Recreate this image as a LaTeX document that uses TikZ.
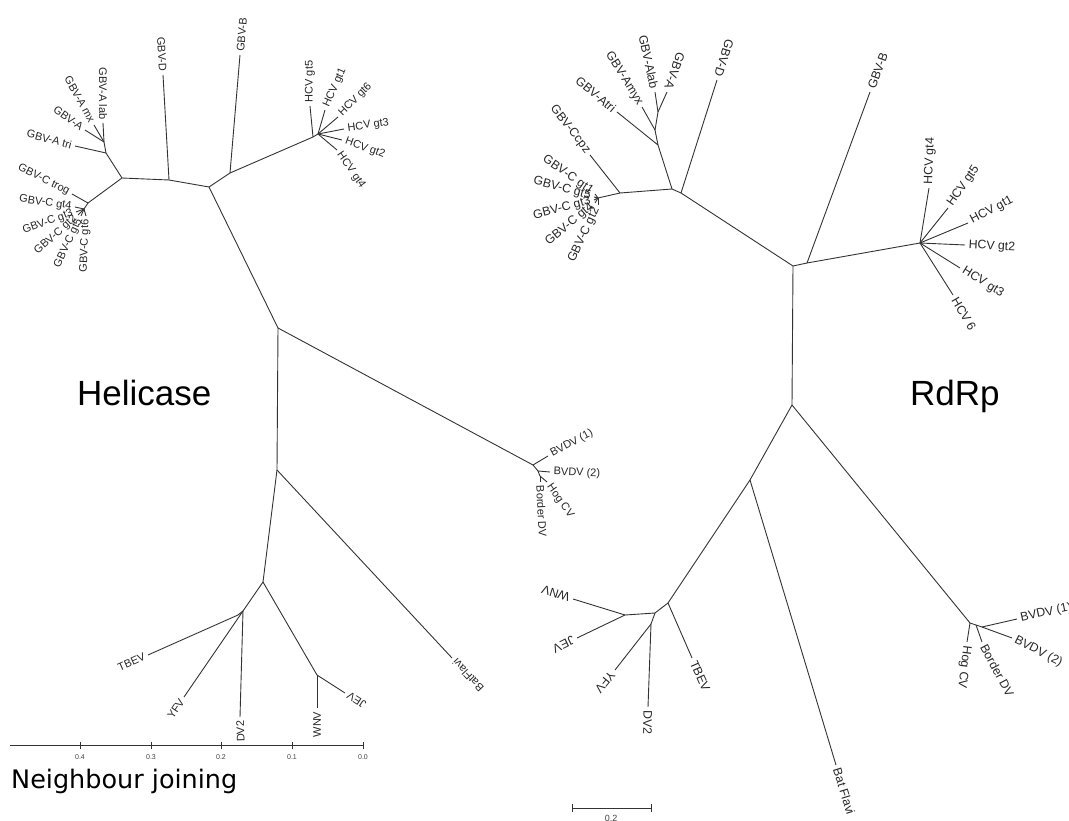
\documentclass[tikz,border=0pt]{standalone}
\usepackage{fontspec}
\setmainfont{Liberation Sans}
\newfontfamily\njfont{DejaVu Sans}
\usetikzlibrary{calc}
\tikzset{
  br/.style={line width=0.9pt, black!80},
  lab/.style={font=\fontsize{11}{13}\selectfont, inner sep=3.5pt, text=black!85},
  labr/.style={lab, font=\fontsize{12.3}{14}\selectfont},
  big/.style={font=\fontsize{35}{40}\selectfont, inner sep=0pt, text=black},
  mid/.style={font=\njfont\fontsize{25.5}{30}\selectfont, inner sep=0pt, text=black},
  ticklab/.style={font=\fontsize{7}{8}\selectfont, inner sep=0pt, text=black!75},
}
\newcommand{\leafx}[6]{%
  \coordinate (#2) at (#3);
  \draw[br] (#1) -- (#2);
  \node[lab, rotate=#4, anchor=#5] (#2-l) at (#2) {#6};}
\newcommand{\leafr}[6]{%
  \coordinate (#2) at (#3);
  \draw[br] (#1) -- (#2);
  \node[labr, rotate=#4, anchor=#5] (#2-l) at (#2) {#6};}
\newcommand{\inode}[3]{\coordinate (#2) at (#3); \draw[br] (#1) -- (#2);}
\begin{document}
\begin{tikzpicture}[x=1pt,y=-1pt]
\useasboundingbox (0,0) rectangle (1069,821);
% ================= Helicase tree =================
\coordinate (L1) at (122,178);
\inode{L1}{Ld}{169,180}
\inode{Ld}{Lm}{209,187}
\inode{Lm}{Lb}{230,173}
\inode{Lb}{Lh}{313,137}
\inode{Lh}{Lh1}{318,134}
\inode{Lm}{L2}{278,328}
\inode{L2}{L3}{277,470}
\inode{L2}{Lbv}{533,465}
\inode{Lbv}{Lbv1}{538,471}
\inode{Lbv1}{Lbv2}{540,476}
\inode{L3}{L4}{263,582}
\inode{L4}{L5}{243,611}
\inode{L5}{L7}{238,615}
\inode{L4}{L6}{317,675}
\inode{L1}{La0}{106,153}
\inode{La0}{La1}{104,142}
\inode{L1}{Lc0}{88,203}
\inode{Lc0}{Lc1}{84,209}
% GBV-A
\leafx{La0}{Ltri}{75,146}{-15}{east}{GBV-A tri}
\leafx{La1}{LA}{85,130}{-36}{east}{GBV-A}
\leafx{La1}{Lmx}{94,125}{-61}{east}{GBV-A mx}
\leafx{La1}{Llab}{103,123}{-90}{east}{GBV-A lab}
% GBV-C
\leafx{Lc0}{Ltrog}{72,194}{-27}{east}{GBV-C trog}
\leafx{Lc1}{Lgt4}{75,207}{-8}{east}{GBV-C gt4}
\leafx{Lc1}{Lgt3}{76,212}{20}{east}{GBV-C gt3}
\leafx{Lc1}{Lgt2}{78,215}{42}{east}{GBV-C gt2}
\leafx{Lc1}{Lgt5}{81,216}{65}{east}{GBV-C gt5}
\leafx{Lc1}{Lgt6}{86,216}{88}{east}{GBV-C gt6}
% GBV-D, GBV-B
\leafx{Ld}{LD}{163,75}{-87}{east}{GBV-D}
\leafx{Lb}{LB}{240,55}{85}{west}{GBV-B}
% HCV
\leafx{Lh}{Lh5}{310,106}{90}{west}{HCV gt5}
\leafx{Lh1}{Lh1t}{325,110}{66}{west}{HCV gt1}
\leafx{Lh1}{Lh6}{338,117}{45}{west}{HCV gt6}
\leafx{Lh1}{Lh3}{344,129}{8}{west}{HCV gt3}
\leafx{Lh1}{Lh2}{342,140}{-20}{west}{HCV gt2}
\leafx{Lh1}{Lh4}{337,150}{-55}{west}{HCV gt4}
% BVDV
\leafx{Lbv}{Lbvd1}{548,456}{28}{west}{BVDV (1)}
\leafx{Lbv1}{Lbvd2}{550,472}{-2}{west}{BVDV (2)}
\leafx{Lbv2}{Lhog}{547,482}{-55}{west}{Hog CV}
\leafx{Lbv2}{Lbdv}{540,482}{-87}{west}{Border DV}
% Flavi
\leafx{L3}{Lbat}{452,658}{133}{east}{BatFlavi}
\leafx{L7}{Ltbev}{148,655}{24}{east}{TBEV}
\leafx{L5}{Lyfv}{184,697}{56}{east}{YFV}
\leafx{L5}{Ldv2}{240,717}{92}{east}{DV2}
\leafx{L6}{Lwnv}{317,708}{90}{east}{WNV}
\leafx{L6}{Ljev}{345,693}{147}{east}{JEV}
% axis
\coordinate (ax0) at (10,745);
\coordinate (ax1) at (363,745);
\draw[br] (ax0) -- (ax1);
\foreach \xx/\lb [count=\i] in {80/0.4,151/0.3,221/0.2,292/0.1,363/0.0}{
  \coordinate (tk\i) at (\xx,745);
  \draw[br] (tk\i) ++(0,-3.5) -- ++(0,7);
  \node[ticklab] (tl\i) at (\xx,757) {\lb};
}
\node[big, anchor=base west] (hel) at (77,405) {Helicase};
\node[mid, anchor=base west] (nj) at (11,788) {Neighbour joining};
% ================= RdRp tree =================
\coordinate (R2) at (793,266);
\inode{R2}{R1a}{681,193}
\inode{R1a}{R1}{672,189}
\inode{R2}{R2b}{807,263}
\inode{R2b}{Rh}{920,243}
\inode{R2}{R3}{792,405}
\inode{R3}{R4}{750,480}
\inode{R4}{Rf0}{668,603}
\inode{Rf0}{Rf1}{655,613}
\inode{Rf1}{Rf2}{651,624}
\inode{Rf1}{Rf3}{625,615}
\inode{R3}{Rg0}{970,623}
\inode{Rg0}{Rg1}{976,625}
\inode{Rg1}{Rg2}{982,627}
\inode{R1}{Ra0}{658,145}
\inode{Ra0}{Ra1}{655,130}
\inode{Ra1}{Ra2}{658,112}
\inode{R1}{Rc0}{620,193}
\inode{Rc0}{Rc1}{598,198}
% GBV
\leafr{R1a}{RD}{717,80}{-108}{east}{GBV-D}
\leafr{R2b}{RB}{870,92}{70}{west}{GBV-B}
\leafr{Ra0}{Ratri}{617,112}{-40}{east}{GBV-Atri}
\leafr{Ra1}{Ramyx}{642,107}{-58}{east}{GBV-Amyx}
\leafr{Ra2}{Ralab}{655,92}{-78}{east}{GBV-Alab}
\leafr{Ra2}{RA}{667,92}{-110}{east}{GBV-A}
\leafr{Rc0}{Rcpz}{590,155}{-52}{east}{GBV-Ccpz}
\leafr{Rc1}{Rg1t}{595,194}{-35}{east}{GBV-C gt1}
\leafr{Rc1}{Rg5}{594,197}{-15}{east}{GBV-C gt5}
\leafr{Rc1}{Rg3}{594,200}{15}{east}{GBV-C gt3}
\leafr{Rc1}{Rg4}{595,203}{40}{east}{GBV-C gt4}
\leafr{Rc1}{Rgt2}{598,205}{65}{east}{GBV-C gt2}
% HCV
\leafr{Rh}{Rh4}{929,188}{88}{west}{HCV gt4}
\leafr{Rh}{Rh5}{948,208}{55}{west}{HCV gt5}
\leafr{Rh}{Rh1}{968,223}{28}{west}{HCV gt1}
\leafr{Rh}{Rh2}{965,245}{-3}{west}{HCV gt2}
\leafr{Rh}{Rh3}{960,268}{-32}{west}{HCV gt3}
\leafr{Rh}{Rh6}{953,295}{-60}{west}{HCV 6}
% Flavi
\leafr{Rf0}{Rtbev}{692,658}{-66}{west}{TBEV}
\leafr{Rf2}{Rdv2}{648,707}{-91}{west}{DV2}
\leafr{Rf2}{Ryfv}{615,670}{-129}{west}{YFV}
\leafr{Rf3}{Rwnv}{573,599}{163}{west}{WNV}
\leafr{Rf3}{Rjev}{577,638}{-154}{west}{JEV}
\leafr{R4}{Rbat}{836,765}{-73}{west}{Bat Flavi}
% Pestivirus
\leafr{Rg2}{Rbv1}{1017,619}{12}{west}{BVDV (1)}
\leafr{Rg2}{Rbv2}{1012,638}{-27}{west}{BVDV (2)}
\leafr{Rg1}{Rbdv}{982,642}{-62}{west}{Border DV}
\leafr{Rg0}{Rhog}{967,642}{-97}{west}{Hog CV}
% scale bar
\coordinate (s0) at (572,808);
\coordinate (s1) at (651,808);
\draw[br] (s0) -- (s1);
\draw[br] (s0) ++(0,-4) -- ++(0,8);
\draw[br] (s1) ++(0,-4) -- ++(0,8);
\node[ticklab, font=\fontsize{9}{10}\selectfont, anchor=north] (sl) at (611,815.5) {0.2};
\node[big, anchor=base west] (rdrp) at (910,405) {RdRp};
\end{tikzpicture}
\end{document}
